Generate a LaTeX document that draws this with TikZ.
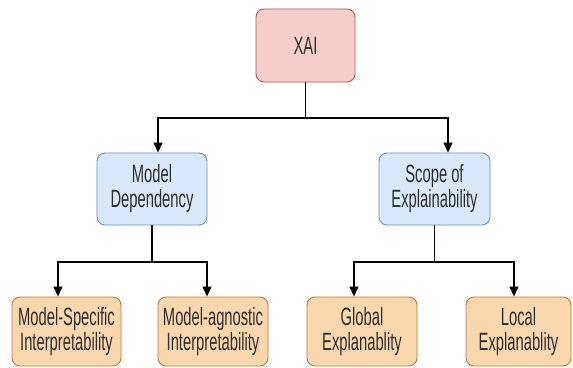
\documentclass[tikz,border=0pt]{standalone}
\usepackage{fontspec}
\usetikzlibrary{arrows.meta}
\newfontfamily\boxfont[FakeStretch=0.59]{Liberation Sans}
\definecolor{rootfill}{HTML}{F8CECC}
\definecolor{rootline}{HTML}{B85450}
\definecolor{midfill}{HTML}{DAE8FC}
\definecolor{midline}{HTML}{6C8EBF}
\definecolor{leaffill}{HTML}{FAD7AC}
\definecolor{leafline}{HTML}{B07A45}
\definecolor{txt}{HTML}{2E2E2E}
\tikzset{
  box/.style={draw, rounded corners=8pt, line width=0.9pt, align=center,
    inner sep=0pt, text=txt,
    font=\boxfont\fontsize{25}{25}\selectfont},
  rootbox/.style={box, fill=rootfill, draw=rootline, minimum width=99pt, minimum height=73pt},
  midbox/.style={box, fill=midfill, draw=midline, minimum width=110pt, minimum height=72pt},
  leafbox/.style={box, fill=leaffill, draw=leafline, minimum height=69pt},
  link/.style={line width=1.3pt, black},
  arrow/.style={link, -{Triangle[length=10pt, width=9pt]}}
}
\begin{document}
\begin{tikzpicture}[x=1pt, y=-1pt]
  \useasboundingbox (0,0) rectangle (573,367);
  \fill[white] (0,0) rectangle (573,367);

  % boxes
  \node[rootbox] (xai) at (305.5,45.5) {XAI};
  \node[midbox] (md) at (152,189) {Model\\Dependency};
  \node[midbox, minimum width=111pt] (se) at (434.5,189) {Scope of\\Explainability};
  \node[leafbox, minimum width=109pt] (ms) at (66.5,331.5) {Model-Specific\\Interpretability};
  \node[leafbox, minimum width=110pt] (ma) at (213,331.5) {Model-agnostic\\Interpretability};
  \node[leafbox, minimum width=110pt] (ge) at (362,331.5) {Global\\Explanablity};
  \node[leafbox, minimum width=105pt] (le) at (518.5,331.5) {Local\\Explanablity};

  % junction points of the tree
  \coordinate (j0) at (305.5,118);
  \coordinate (j1) at (152,262);
  \coordinate (j2) at (434.5,262);

  % connectors
  \draw[link] (xai.south) -- (j0);
  \draw[arrow] (j0) -| ([xshift=6pt]md.north);
  \draw[arrow] (j0) -| ([xshift=13.5pt]se.north);

  \draw[link] (md.south) -- (j1);
  \draw[arrow] (j1) -| ([xshift=-8.5pt]ms.north);
  \draw[arrow] (j1) -| ([xshift=-6pt]ma.north);

  \draw[link] (se.south) -- (j2);
  \draw[arrow] (j2) -| ([xshift=-8pt]ge.north);
  \draw[arrow] (j2) -| ([xshift=-4.5pt]le.north);
\end{tikzpicture}
\end{document}
